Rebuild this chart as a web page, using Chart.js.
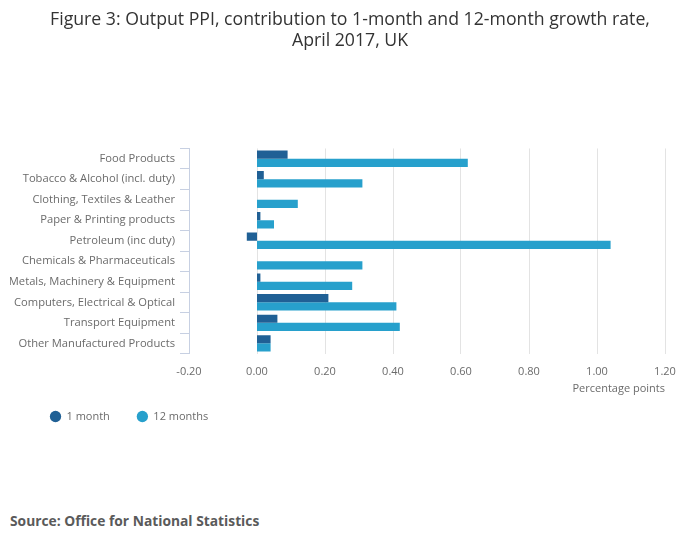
<!DOCTYPE html>
<html>
<head>
<meta charset="utf-8">
<script src="https://cdn.jsdelivr.net/npm/chart.js@4/dist/chart.umd.min.js"></script>
<style>
  body { margin: 0; background: #fff; font-family: 'Open Sans', sans-serif; }
  #wrap { position: relative; width: 700px; height: 549px; }
  #chartBox { position: absolute; left: 0; top: 0; width: 700px; height: 432px; }
  #source { position: absolute; left: 10px; top: 511px; font-size: 13.8px; font-weight: bold; color: #5a5a5a; }
</style>
</head>
<body>
<div id="wrap">
  <div id="chartBox"><canvas id="ppiChart"></canvas></div>
  <div id="source">Source: Office for National Statistics</div>
</div>
<script>
const categories = [
  'Food Products',
  'Tobacco & Alcohol (incl. duty)',
  'Clothing, Textiles & Leather',
  'Paper & Printing products',
  'Petroleum (inc duty)',
  'Chemicals & Pharmaceuticals',
  'Metals, Machinery & Equipment',
  'Computers, Electrical & Optical',
  'Transport Equipment',
  'Other Manufactured Products'
];
const oneMonth = [0.09, 0.02, 0.00, 0.01, -0.03, 0.00, 0.01, 0.21, 0.06, 0.04];
const twelveMonths = [0.62, 0.31, 0.12, 0.05, 1.04, 0.31, 0.28, 0.41, 0.42, 0.04];
const seriesNames = ['1 month', '12 months'];

const darkBlue = '#206095';
const lightBlue = '#27a0cc';
const axisColor = '#c7d0e2';
const textColor = '#6b6b6b';

// title centred on the whole canvas, legend nudged right of the labels
const blockShift = {
  id: 'blockShift',
  afterLayout(chart) {
    chart.titleBlock.left -= 10;
    chart.titleBlock.right += 35;
    chart.legend.left += 13;
  }
};

const ctx = document.getElementById('ppiChart').getContext('2d');
const chart = new Chart(ctx, {
  type: 'bar',
  data: {
    labels: categories,
    datasets: [
      { label: seriesNames[0], data: oneMonth, backgroundColor: darkBlue },
      { label: seriesNames[1], data: twelveMonths, backgroundColor: lightBlue }
    ]
  },
  plugins: [blockShift],
  options: {
    indexAxis: 'y',
    responsive: true,
    maintainAspectRatio: false,
    animation: false,
    datasets: {
      bar: { categoryPercentage: 0.8, barPercentage: 1.0 }
    },
    layout: {
      padding: { left: 10, right: 35, top: 9, bottom: 0 }
    },
    plugins: {
      title: {
        display: true,
        text: ['Figure 3: Output PPI, contribution to 1-month and 12-month growth rate,', 'April 2017, UK'],
        color: '#333333',
        font: { family: 'Open Sans', size: 17.7, weight: 'normal' },
        lineHeight: 1.25,
        padding: { top: 0, bottom: 97 }
      },
      legend: {
        position: 'bottom',
        align: 'start',
        labels: {
          usePointStyle: true,
          pointStyle: 'circle',
          boxWidth: 11,
          boxHeight: 8,
          padding: 27,
          color: textColor,
          font: { family: 'Open Sans', size: 11 }
        }
      },
      tooltip: { enabled: false }
    },
    scales: {
      x: {
        min: -0.2,
        max: 1.2,
        ticks: {
          stepSize: 0.2,
          color: textColor,
          padding: 12,
          font: { family: 'Open Sans', size: 11 },
          callback: function(value) {
            if (Math.abs(value) < 1e-9) value = 0;
            return value.toFixed(2);
          }
        },
        grid: {
          color: '#e3e3e3',
          drawTicks: false
        },
        border: { display: false },
        title: {
          display: true,
          text: 'Percentage points',
          align: 'end',
          color: textColor,
          font: { family: 'Open Sans', size: 11 },
          padding: { top: -9, bottom: -11 }
        }
      },
      y: {
        afterFit: function(scale) {
          scale.width = 179;
        },
        ticks: {
          color: textColor,
          padding: 5,
          font: { family: 'Open Sans', size: 11.2 }
        },
        grid: {
          drawOnChartArea: false,
          color: axisColor,
          tickLength: 9
        },
        border: { display: true, color: axisColor }
      }
    }
  }
});
</script>
</body>
</html>
